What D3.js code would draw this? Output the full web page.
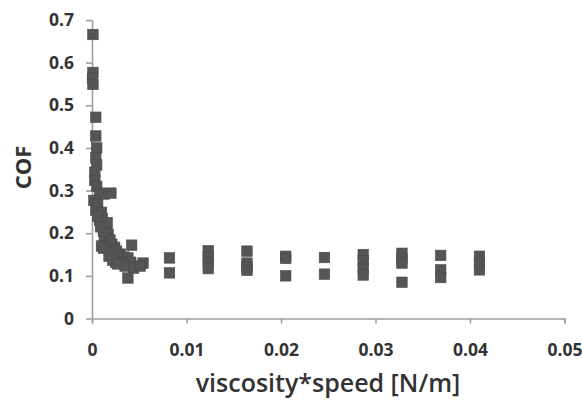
<!DOCTYPE html>
<html>
<head>
<meta charset="utf-8">
<script src="https://cdn.jsdelivr.net/npm/d3@7"></script>
<style>
  body { margin: 0; background: #fff; }
  svg { display: block; font-family: "Open Sans", "DejaVu Sans", sans-serif; }
  .axis path, .axis line { stroke: #a0a0a0; stroke-width: 1.6; }
  .axis text { fill: #333; font-family: "Open Sans", sans-serif; font-weight: 700; font-size: 17.5px; }
</style>
</head>
<body>
<div id="chart"></div>
<script>
// viscosity*speed [N/m] for each measured point
const speed = [
  0.0001, 0.0001, 0.00005, 0.0001, 0.0004, 0.0004, 0.0005,
  0.0004, 0.0005, 0.0003, 0.0003, 0.0005, 0.0008, 0.0013, 0.002, 0.0002, 0.0006,
  0.0004, 0.001, 0.0011, 0.0013, 0.0015, 0.0017, 0.0013, 0.0019, 0.0021,
  0.0008, 0.0012, 0.0006, 0.0016, 0.0009,
  0.0024, 0.0042, 0.001, 0.0012, 0.0026, 0.003, 0.0034, 0.0038, 0.0041,
  0.0054, 0.0035, 0.0044, 0.0051, 0.0038, 0.0018, 0.0025, 0.0022, 0.0027,
  0.0082, 0.0082,
  0.0123, 0.0123, 0.0123, 0.0123,
  0.0164, 0.0164, 0.0164, 0.0164,
  0.0205, 0.0205, 0.0205,
  0.0246, 0.0246,
  0.0287, 0.0287, 0.0287, 0.0287,
  0.0328, 0.0328, 0.0328, 0.0328,
  0.0369, 0.0369, 0.0369,
  0.041, 0.041, 0.041
];
// coefficient of friction for the same points
const cof = [
  0.666, 0.577, 0.563, 0.549, 0.472, 0.428, 0.400,
  0.377, 0.360, 0.343, 0.324, 0.310, 0.294, 0.292, 0.294, 0.277, 0.268,
  0.254, 0.249, 0.235, 0.221, 0.212, 0.198, 0.189, 0.184, 0.174,
  0.230, 0.205, 0.240, 0.225, 0.215,
  0.167, 0.172, 0.170, 0.165, 0.158, 0.151, 0.144, 0.142, 0.132,
  0.130, 0.123, 0.118, 0.123, 0.095, 0.146, 0.132, 0.137, 0.128,
  0.142, 0.107,
  0.159, 0.145, 0.132, 0.117,
  0.158, 0.130, 0.120, 0.113,
  0.146, 0.141, 0.100,
  0.143, 0.104,
  0.150, 0.135, 0.118, 0.102,
  0.153, 0.140, 0.130, 0.085,
  0.148, 0.114, 0.096,
  0.146, 0.130, 0.114
];
const xTicks = [0, 0.01, 0.02, 0.03, 0.04, 0.05];
const yTicks = [0, 0.1, 0.2, 0.3, 0.4, 0.5, 0.6, 0.7];

const width = 582, height = 400;
const margin = {top: 20, right: 17.5, bottom: 81.5, left: 92};
const plotW = width - margin.left - margin.right;
const plotH = height - margin.top - margin.bottom;
const markerSize = 10.5;

const xScale = d3.scaleLinear().domain([0, 0.05]).range([0, plotW]);
const yScale = d3.scaleLinear().domain([0, 0.7]).range([plotH, 0]);

const svg = d3.select("#chart").append("svg")
    .attr("width", width)
    .attr("height", height);

const g = svg.append("g")
    .attr("transform", "translate(" + margin.left + "," + margin.top + ")");

// x axis
g.append("g")
    .attr("class", "axis x")
    .attr("transform", "translate(0," + plotH + ")")
    .call(d3.axisBottom(xScale).tickValues(xTicks)
      .tickFormat(d => d === 0 ? "0" : d3.format(".2f")(d))
      .tickSizeInner(5).tickSizeOuter(5).tickPadding(20));

// y axis
g.append("g")
    .attr("class", "axis y")
    .call(d3.axisLeft(yScale).tickValues(yTicks)
      .tickFormat(d => d === 0 ? "0" : d3.format(".1f")(d))
      .tickSizeInner(6).tickSizeOuter(0).tickPadding(12));

// points
const points = speed.map((s, i) => ({x: s, y: cof[i]}));
g.append("g").selectAll("rect")
    .data(points)
    .join("rect")
    .attr("x", d => xScale(d.x) - markerSize / 2)
    .attr("y", d => yScale(d.y) - markerSize / 2)
    .attr("width", markerSize)
    .attr("height", markerSize)
    .attr("fill", "#555")
    .attr("stroke", "#4a4a4a")
    .attr("stroke-width", 0.6);

// axis titles
svg.append("text")
    .attr("x", 328)
    .attr("y", 392)
    .attr("text-anchor", "middle")
    .attr("fill", "#333")
    .style("font-size", "25px")
    .style("font-weight", 600)
    .text("viscosity*speed [N/m]");

svg.append("text")
    .attr("transform", "translate(22,167.5)rotate(-90)")
    .attr("text-anchor", "middle")
    .attr("dominant-baseline", "central")
    .attr("fill", "#333")
    .style("font-size", "22px")
    .style("font-weight", 700)
    .text("COF");
</script>
</body>
</html>
